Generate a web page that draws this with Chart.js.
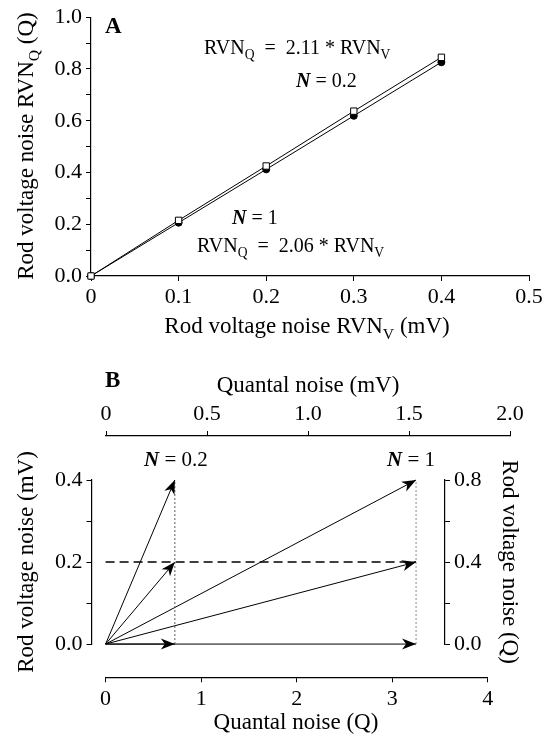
<!DOCTYPE html>
<html><head><meta charset="utf-8">
<script src="https://cdn.jsdelivr.net/npm/chart.js@4.4.1/dist/chart.umd.min.js"></script>
<style>
html,body{margin:0;padding:0;background:#fff;}
#wrap{position:relative;width:548px;height:740px;overflow:hidden;}
canvas{position:absolute;left:0;top:0;}
</style></head><body><div id="wrap">
<canvas id="cA" width="548" height="740"></canvas>
<canvas id="cBside" width="548" height="740"></canvas>
<canvas id="cBtop" width="548" height="740"></canvas>
<canvas id="cBmain" width="548" height="740"></canvas>
</div>
<script>
// ---------- Panel A data ----------
const rvnV = [0, 0.1, 0.2, 0.3, 0.4];                 // rod voltage noise (mV)
const rvnQ_N02 = [0, 0.215, 0.425, 0.637, 0.845];     // N = 0.2 (open squares)
const rvnQ_N1 = [0, 0.206, 0.412, 0.619, 0.826];      // N = 1 (filled symbols)
const slopeN02 = '2.11';
const slopeN1 = '2.06';
const xTicksA = [0, 0.1, 0.2, 0.3, 0.4, 0.5];
const yTicksA = [0, 0.1, 0.2, 0.3, 0.4, 0.5, 0.6, 0.7, 0.8, 0.9, 1.0];

// ---------- Panel B data ----------
const quantalEndQ = [0.725, 3.25];        // quantal noise (Q) for N = 0.2, N = 1
const rodNoiseMV = [0.4, 0.2, 0];         // rod voltage noise levels (mV)
const dashedLevelMV = 0.2;
const xTicksBottom = [0, 1, 2, 3, 4];     // Quantal noise (Q)
const xTicksTop = [0, 0.5, 1.0, 1.5, 2.0];// Quantal noise (mV)
const yTicksLeft = [0, 0.1, 0.2, 0.3, 0.4];   // Rod voltage noise (mV)
const yTicksRight = [0, 0.2, 0.4, 0.6, 0.8];  // Rod voltage noise (Q)

// ---------- helpers ----------
const FAM = '"Liberation Serif", "Times New Roman", serif';
const TICKFONT = {family: FAM, size: 22};
const R = t => ({t});
const BI = t => ({t, b: true, i: true});
const BO = t => ({t, b: true});
const SUB = t => ({t, sub: true});
function rich(ctx, segs, x, y, size, align, rot) {
  ctx.save();
  ctx.translate(x, y);
  if (rot) ctx.rotate(rot);
  const fontFor = s => (s.i ? 'italic ' : '') + (s.b ? 'bold ' : '') + (s.sub ? size * 0.68 : size) + 'px ' + FAM;
  let w = 0;
  for (const s of segs) { ctx.font = fontFor(s); w += ctx.measureText(s.t).width; }
  let cx = align === 'center' ? -w / 2 : (align === 'right' ? -w : 0);
  ctx.fillStyle = '#000';
  ctx.textBaseline = 'alphabetic';
  ctx.textAlign = 'left';
  for (const s of segs) {
    ctx.font = fontFor(s);
    ctx.fillText(s.t, cx, s.sub ? size * 0.24 : 0);
    cx += ctx.measureText(s.t).width;
  }
  ctx.restore();
}
const setTicks = arr => s => { s.ticks = arr.map(v => ({value: v})); };
const gridOpts = {drawOnChartArea: false, drawTicks: true, tickLength: 5, color: '#000', lineWidth: 1};
const borderOpts = {display: true, color: '#000', width: 1.2};
const base = {
  responsive: false, animation: false, events: [], devicePixelRatio: 1,
  plugins: {legend: {display: false}, tooltip: {enabled: false}}
};

// ---------- Panel A ----------
const textA = {
  id: 'textA',
  afterDraw(chart) {
    const c = chart.ctx;
    rich(c, [BO('A')], 105, 33, 23, 'left');
    rich(c, [R('RVN'), SUB('Q'), R('  =  ' + slopeN02 + ' * RVN'), SUB('V')], 204, 54, 20, 'left');
    rich(c, [BI('N'), R(' = 0.2')], 296, 87, 20, 'left');
    rich(c, [BI('N'), R(' = 1')], 232, 224, 20, 'left');
    rich(c, [R('RVN'), SUB('Q'), R('  =  ' + slopeN1 + ' * RVN'), SUB('V')], 197, 252, 20, 'left');
    rich(c, [R('Rod voltage noise RVN'), SUB('V'), R(' (mV)')], 307, 333, 23, 'center');
    rich(c, [R('Rod voltage noise RVN'), SUB('Q'), R(' (Q)')], 33, 146, 23, 'center', -Math.PI / 2);
  }
};
new Chart(document.getElementById('cA'), {
  type: 'scatter',
  data: {datasets: [
    {label: 'N = 0.2', data: rvnV.map((x, i) => ({x, y: rvnQ_N02[i]})), showLine: true, clip: false,
     borderColor: '#000', borderWidth: 1, pointStyle: 'rect', pointRadius: 4.5,
     pointBackgroundColor: '#fff', pointBorderColor: '#000', pointBorderWidth: 1},
    {label: 'N = 1', data: rvnV.map((x, i) => ({x, y: rvnQ_N1[i]})), showLine: true, clip: false,
     borderColor: '#000', borderWidth: 1, pointStyle: 'circle', pointRadius: 3.5,
     pointBackgroundColor: '#000', pointBorderColor: '#000', pointBorderWidth: 1}
  ]},
  options: Object.assign({}, base, {
    layout: {padding: {left: 91 - 60, right: 548 - 529, top: 17, bottom: 740 - 276 - 45}},
    scales: {
      x: {type: 'linear', min: 0, max: 0.5, afterBuildTicks: setTicks(xTicksA), afterFit: s => { s.height = 45; },
          grid: gridOpts, border: borderOpts,
          ticks: {font: TICKFONT, color: '#000', padding: 3, maxRotation: 0, autoSkip: false,
                  callback: v => v === 0 ? '0' : v.toFixed(1)}},
      y: {type: 'linear', min: 0, max: 1.0, afterBuildTicks: setTicks(yTicksA), afterFit: s => { s.width = 60; },
          grid: gridOpts, border: borderOpts,
          ticks: {font: TICKFONT, color: '#000', padding: 4, autoSkip: false,
                  callback: v => (Math.round(v * 10) % 2 === 0 ? v.toFixed(1) : '')}}
    }
  }),
  plugins: [textA]
});

// ---------- Panel B: side axes ----------
new Chart(document.getElementById('cBside'), {
  type: 'scatter',
  data: {datasets: []},
  options: Object.assign({}, base, {
    layout: {padding: {left: 91.5 - 60, right: 548 - 445 - 60, top: 480, bottom: 740 - 644}},
    scales: {
      x: {type: 'linear', min: 0, max: 1, display: false},
      y: {type: 'linear', position: 'left', min: 0, max: 0.4, afterBuildTicks: setTicks(yTicksLeft),
          afterFit: s => { s.width = 60; }, grid: gridOpts, border: borderOpts,
          ticks: {font: TICKFONT, color: '#000', padding: 4, autoSkip: false,
                  callback: v => (Math.round(v * 10) % 2 === 0 ? v.toFixed(1) : '')}},
      y2: {type: 'linear', position: 'right', min: 0, max: 0.8, afterBuildTicks: setTicks(yTicksRight),
          afterFit: s => { s.width = 60; }, grid: gridOpts, border: borderOpts,
          ticks: {font: TICKFONT, color: '#000', padding: 4, autoSkip: false,
                  callback: v => (Math.round(v * 10) % 4 === 0 ? v.toFixed(1) : '')}}
    }
  })
});

// ---------- Panel B: top axis ----------
new Chart(document.getElementById('cBtop'), {
  type: 'scatter',
  data: {datasets: []},
  options: Object.assign({}, base, {
    layout: {padding: {left: 106, right: 548 - 510, top: 436 - 50, bottom: 200}},
    scales: {
      x: {type: 'linear', position: 'top', min: 0, max: 2.0, afterBuildTicks: setTicks(xTicksTop),
          afterFit: s => { s.height = 50; }, grid: gridOpts, border: borderOpts,
          ticks: {font: TICKFONT, color: '#000', padding: 4, maxRotation: 0, autoSkip: false,
                  callback: v => v === 0 ? '0' : v.toFixed(1)}},
      y: {type: 'linear', min: 0, max: 1, display: false}
    }
  })
});

// ---------- Panel B: main (vectors + bottom axis) ----------
const vectorSets = [];
quantalEndQ.forEach(q => {
  rodNoiseMV.forEach(v => {
    vectorSets.push({data: [{x: 0, y: 0}, {x: q, y: v}], arrow: true, showLine: true, clip: false,
                     borderColor: '#000', borderWidth: 1, pointRadius: 0});
  });
});
const guideSets = quantalEndQ.map((q, i) => ({
  data: [{x: q, y: 0}, {x: q, y: rodNoiseMV[0]}], showLine: true, clip: false,
  borderColor: i === 0 ? '#555' : '#888', borderWidth: 1, borderDash: [2, 2], pointRadius: 0
}));
guideSets.push({data: [{x: 0, y: dashedLevelMV}, {x: quantalEndQ[1], y: dashedLevelMV}], showLine: true, clip: false,
  borderColor: '#000', borderWidth: 1.4, borderDash: [9, 5], pointRadius: 0});

const arrowPlugin = {
  id: 'arrows',
  afterDatasetsDraw(chart) {
    const c = chart.ctx;
    chart.data.datasets.forEach((ds, i) => {
      if (!ds.arrow) return;
      const pts = chart.getDatasetMeta(i).data;
      const a = pts[0], b = pts[pts.length - 1];
      const ang = Math.atan2(b.y - a.y, b.x - a.x);
      const L = 14, W = 5.5, N = 4;
      c.save();
      c.translate(b.x, b.y);
      c.rotate(ang);
      c.beginPath();
      c.moveTo(0, 0);
      c.lineTo(-L, -W);
      c.lineTo(-L + N, 0);
      c.lineTo(-L, W);
      c.closePath();
      c.fillStyle = '#000';
      c.fill();
      c.restore();
    });
  }
};
const textB = {
  id: 'textB',
  afterDraw(chart) {
    const c = chart.ctx;
    rich(c, [BO('B')], 105, 387, 23, 'left');
    rich(c, [R('Quantal noise (mV)')], 308, 392, 23, 'center');
    rich(c, [BI('N'), R(' = 0.2')], 144, 466, 21, 'left');
    rich(c, [BI('N'), R(' = 1')], 387, 466, 21, 'left');
    rich(c, [R('Quantal noise (Q)')], 296, 729, 23, 'center');
    rich(c, [R('Rod voltage noise (mV)')], 33, 562, 23, 'center', -Math.PI / 2);
    rich(c, [R('Rod voltage noise (Q)')], 503, 562, 23, 'center', Math.PI / 2);
  }
};
new Chart(document.getElementById('cBmain'), {
  type: 'scatter',
  data: {datasets: guideSets.concat(vectorSets)},
  options: Object.assign({}, base, {
    layout: {padding: {left: 105.6, right: 548 - 487.7, top: 480, bottom: 740 - 677.3 - 45}},
    scales: {
      x: {type: 'linear', position: 'bottom', min: 0, max: 4, afterBuildTicks: setTicks(xTicksBottom),
          afterFit: s => { s.height = 45; }, grid: gridOpts, border: borderOpts,
          ticks: {font: TICKFONT, color: '#000', padding: 4, maxRotation: 0, autoSkip: false,
                  callback: v => String(v)}},
      y: {type: 'linear', min: -0.081, max: 0.4, display: false}
    }
  }),
  plugins: [arrowPlugin, textB]
});
</script>
</body></html>
